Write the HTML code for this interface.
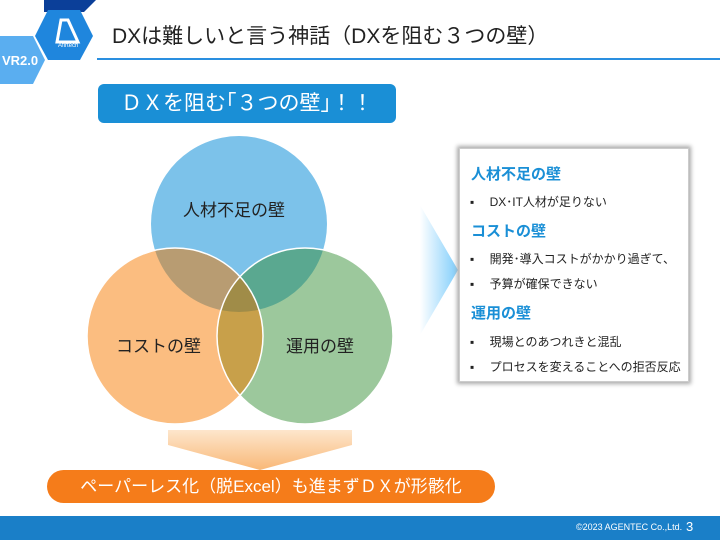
<!DOCTYPE html>
<html><head><meta charset="utf-8"><style>
body{margin:0;width:720px;height:540px;position:relative;overflow:hidden;background:#fff;font-family:"Liberation Sans","Noto Sans CJK JP",sans-serif}
.a{position:absolute}
</style></head><body>
<svg class="a" style="left:0;top:0" width="720" height="540">
<defs>
<linearGradient id="ar" x1="0" x2="1"><stop offset="0" stop-color="#fff"/><stop offset="1" stop-color="#7fcdfb"/></linearGradient>
<linearGradient id="dn" x1="0" y1="0" x2="0" y2="1"><stop offset="0" stop-color="#fde6cc"/><stop offset="1" stop-color="#f9b877"/></linearGradient>
<clipPath id="cT"><circle cx="239" cy="224" r="88"/></clipPath>
<clipPath id="cL"><circle cx="175" cy="336" r="88"/></clipPath>
<clipPath id="cR"><circle cx="305" cy="336" r="88"/></clipPath>
</defs>
<polygon points="44,-14 84,-14 96,0 84,12 44,12" fill="#0b3f99"/>
<polygon points="48,10 80,10 93,36 80,60 48,60 35,36" fill="#1f86dd"/>
<polygon points="61,20 68,20 78,42 57,42" fill="none" stroke="#fff" stroke-width="3"/>
<text x="58" y="47" font-size="6" fill="#fff">Afirtech</text>
<polygon points="0,36 33,36 45,60 33,84 0,84" fill="#5aaef0"/>
<text x="2" y="65" font-size="13" font-weight="bold" fill="#fff">VR2.0</text>
<line x1="97" y1="59" x2="720" y2="59" stroke="#2a8fe0" stroke-width="2"/>
<circle cx="239" cy="224" r="88" fill="#7cc2ea"/>
<circle cx="175" cy="336" r="88" fill="#fbbd80"/>
<circle cx="305" cy="336" r="88" fill="#9cc89c"/>
<g clip-path="url(#cT)"><circle cx="175" cy="336" r="88" fill="#b89c72"/><circle cx="305" cy="336" r="88" fill="#5aa890"/></g>
<g clip-path="url(#cL)"><circle cx="305" cy="336" r="88" fill="#c8a04a"/></g>
<g clip-path="url(#cT)"><g clip-path="url(#cL)"><circle cx="305" cy="336" r="88" fill="#a08c48"/></g></g>
<g fill="none" stroke="#fff" stroke-width="1.5">
<circle cx="175" cy="336" r="88"/><circle cx="305" cy="336" r="88"/></g>
<polygon points="420,205 458,270 420,335" fill="url(#ar)"/>
<polygon points="168,430 352,430 352,445 260,470 168,445" fill="url(#dn)"/>
<rect x="0" y="516" width="720" height="24" fill="#1a7fc8"/>
</svg>
<div class="a" style="left:183px;top:196px;font-size:17px;color:#222">人材不足の壁</div>
<div class="a" style="left:112px;top:20px;font-size:21px;color:#222">DXは難しいと言う神話（DXを阻む３つの壁）</div>
<div class="a" style="left:98px;top:84px;width:298px;height:39px;background:#1a8fd6;border-radius:6px;color:#fff;font-size:21px;line-height:39px;text-align:center">ＤＸを阻む｢３つの壁｣！！</div>
<div class="a" style="left:116px;top:332px;font-size:17px;color:#222">コストの壁</div>
<div class="a" style="left:286px;top:332px;font-size:17px;color:#222">運用の壁</div>
<div class="a" style="left:459px;top:148px;width:228px;height:232px;border:1px solid #ccc;box-shadow:0 0 4px 2px #aaa;background:#fff;font-size:12px;color:#222">
<div style="position:absolute;left:11px;top:14px;color:#1a8fd6;font-weight:bold;font-size:15px">人材不足の壁</div>
<div style="position:absolute;left:10px;top:44px">▪　 DX･IT人材が足りない</div>
<div style="position:absolute;left:11px;top:71px;color:#1a8fd6;font-weight:bold;font-size:15px">コストの壁</div>
<div style="position:absolute;left:10px;top:101px">▪　 開発･導入コストがかかり過ぎて、</div>
<div style="position:absolute;left:10px;top:126px">▪　 予算が確保できない</div>
<div style="position:absolute;left:11px;top:153px;color:#1a8fd6;font-weight:bold;font-size:15px">運用の壁</div>
<div style="position:absolute;left:10px;top:184px">▪　 現場とのあつれきと混乱</div>
<div style="position:absolute;left:10px;top:209px">▪　 プロセスを変えることへの拒否反応</div>
</div>
<div class="a" style="left:47px;top:470px;width:448px;height:33px;background:#f57c1a;border-radius:17px;color:#fff;font-size:17px;line-height:33px;text-align:center">ペーパーレス化（脱Excel）も進まずＤＸが形骸化</div>
<div class="a" style="left:576px;top:522px;font-size:9px;color:#fff">©2023 AGENTEC Co.,Ltd.</div>
<div class="a" style="left:686px;top:519px;font-size:13px;color:#fff">3</div>
</body></html>
